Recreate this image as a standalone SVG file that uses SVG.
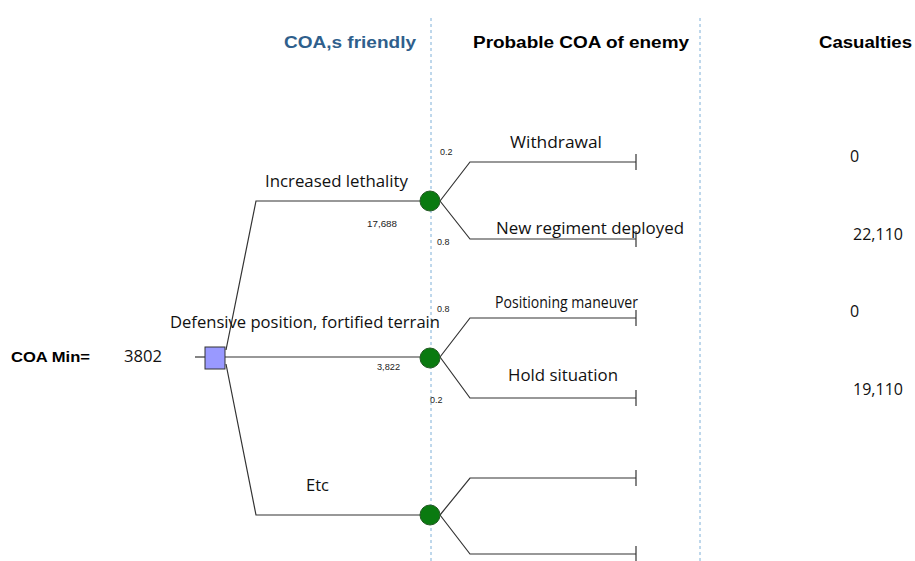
<svg xmlns="http://www.w3.org/2000/svg" width="915" height="561" viewBox="0 0 915 561">
  <style>
    .hdr { font-family: "Liberation Sans", Arial, sans-serif; font-weight: bold; font-size: 16px; fill: #000; }
    .lbl { font-family: "Open Sans", "Liberation Sans", sans-serif; font-size: 16px; fill: #111; }
    .sm { font-family: "Liberation Sans", Arial, sans-serif; font-size: 9px; fill: #222; }
    .val { font-family: "Open Sans", "Liberation Sans", sans-serif; font-size: 16px; fill: #111; }
    .guide { stroke: #7fb0d8; stroke-width: 1; stroke-dasharray: 3 3; fill: none; }
    .edge { stroke: #333; stroke-width: 1.2; fill: none; }
    .chance { fill: #0a7a10; stroke: #245a24; stroke-width: 1; }
  </style>

  <!-- column separators -->
  <g id="guides">
    <line class="guide" x1="431" y1="18" x2="431" y2="561"/>
    <line class="guide" x1="700" y1="18" x2="700" y2="561"/>
  </g>

  <!-- column headings -->
  <g id="headings">
    <text class="hdr" x="284" y="48" textLength="132" lengthAdjust="spacingAndGlyphs" style="fill:#2f5f8c">COA,s friendly</text>
    <text class="hdr" x="473" y="48" textLength="216" lengthAdjust="spacingAndGlyphs">Probable COA of enemy</text>
    <text class="hdr" x="819" y="48" textLength="93" lengthAdjust="spacingAndGlyphs">Casualties</text>
  </g>

  <!-- connectors -->
  <g id="connectors">
    <line class="edge" x1="195" y1="357" x2="205" y2="357"/>
    <polyline class="edge" points="226,350 256,201 431,201"/>
    <line class="edge" x1="225" y1="357" x2="431" y2="357"/>
    <polyline class="edge" points="226,364 256,515 431,515"/>

    <polyline class="edge" points="440,201 470,162 636,162"/>
    <polyline class="edge" points="440,201 470,239 636,239"/>
    <line class="edge" x1="636" y1="154" x2="636" y2="170"/>
    <line class="edge" x1="636" y1="231" x2="636" y2="247"/>

    <polyline class="edge" points="440,357 470,318 636,318"/>
    <polyline class="edge" points="440,357 470,398 636,398"/>
    <line class="edge" x1="636" y1="310" x2="636" y2="326"/>
    <line class="edge" x1="636" y1="390" x2="636" y2="406"/>

    <polyline class="edge" points="440,515 470,478 636,478"/>
    <polyline class="edge" points="440,515 470,554 636,554"/>
    <line class="edge" x1="636" y1="470" x2="636" y2="486"/>
    <line class="edge" x1="636" y1="546" x2="636" y2="561"/>
  </g>

  <!-- decision node -->
  <g id="decision">
    <rect x="205" y="347" width="20" height="22" fill="#9999ff" stroke="#333" stroke-width="1"/>
    <text class="hdr" x="11" y="362" textLength="79" lengthAdjust="spacingAndGlyphs" style="font-size:15px">COA Min=</text>
    <text class="val" x="124" y="362" textLength="38" lengthAdjust="spacingAndGlyphs">3802</text>
  </g>

  <!-- option labels on the decision branches -->
  <g id="option-lethality">
    <text class="lbl" x="265" y="187" textLength="143" lengthAdjust="spacingAndGlyphs">Increased lethality</text>
    <text class="sm" x="367" y="227" textLength="30" lengthAdjust="spacingAndGlyphs">17,688</text>
  </g>
  <g id="option-defensive">
    <text class="lbl" x="170" y="328" textLength="270" lengthAdjust="spacingAndGlyphs">Defensive position, fortified terrain</text>
    <text class="sm" x="377" y="370" textLength="23" lengthAdjust="spacingAndGlyphs">3,822</text>
  </g>
  <g id="option-etc">
    <text class="lbl" x="306" y="491" textLength="23" lengthAdjust="spacingAndGlyphs">Etc</text>
  </g>

  <!-- chance nodes -->
  <g id="chance-1">
    <ellipse class="chance" cx="430" cy="201" rx="10" ry="10"/>
    <text class="sm" x="440" y="155">0.2</text>
    <text class="sm" x="437" y="245">0.8</text>
  </g>
  <g id="chance-2">
    <ellipse class="chance" cx="430" cy="358" rx="10" ry="10"/>
    <text class="sm" x="437" y="312">0.8</text>
    <text class="sm" x="430" y="403">0.2</text>
  </g>
  <g id="chance-3">
    <ellipse class="chance" cx="430" cy="515" rx="10" ry="10"/>
  </g>

  <!-- enemy outcomes -->
  <g id="outcome-withdrawal">
    <text class="lbl" x="510" y="148" textLength="92" lengthAdjust="spacingAndGlyphs">Withdrawal</text>
    <text class="val" x="850" y="162">0</text>
  </g>
  <g id="outcome-regiment">
    <text class="lbl" x="496" y="234" textLength="188" lengthAdjust="spacingAndGlyphs">New regiment deployed</text>
    <text class="val" x="853" y="240" textLength="50" lengthAdjust="spacingAndGlyphs">22,110</text>
  </g>
  <g id="outcome-positioning">
    <text class="lbl" x="495" y="308" textLength="143" lengthAdjust="spacingAndGlyphs">Positioning maneuver</text>
    <text class="val" x="850" y="317">0</text>
  </g>
  <g id="outcome-hold">
    <text class="lbl" x="508" y="381" textLength="110" lengthAdjust="spacingAndGlyphs">Hold situation</text>
    <text class="val" x="853" y="395" textLength="50" lengthAdjust="spacingAndGlyphs">19,110</text>
  </g>
</svg>
